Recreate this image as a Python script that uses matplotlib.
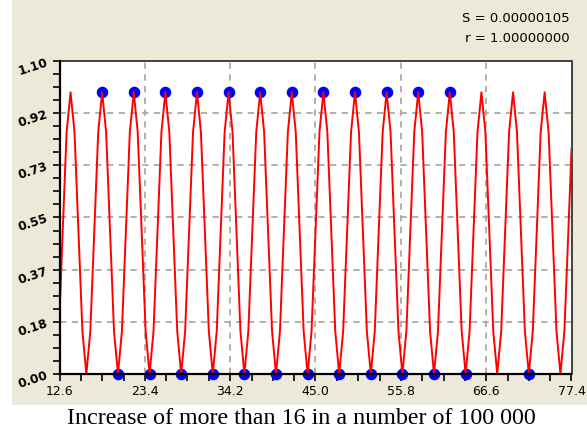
import numpy as np
from matplotlib import pyplot as plt
from matplotlib.patches import Rectangle

# fitted curve (red)
wave_x = [12.6, 13.0, 13.5, 14.0, 14.5, 15.0, 15.5,
          16.0, 16.5, 17.0, 17.5, 18.0, 18.5, 19.0, 19.5,
          20.0, 20.5, 21.0, 21.5, 22.0, 22.5, 23.0, 23.5,
          24.0, 24.5, 25.0, 25.5, 26.0, 26.5, 27.0, 27.5,
          28.0, 28.5, 29.0, 29.5, 30.0, 30.5, 31.0, 31.5,
          32.0, 32.5, 33.0, 33.5, 34.0, 34.5, 35.0, 35.5,
          36.0, 36.5, 37.0, 37.5, 38.0, 38.5, 39.0, 39.5,
          40.0, 40.5, 41.0, 41.5, 42.0, 42.5, 43.0, 43.5,
          44.0, 44.5, 45.0, 45.5, 46.0, 46.5, 47.0, 47.5,
          48.0, 48.5, 49.0, 49.5, 50.0, 50.5, 51.0, 51.5,
          52.0, 52.5, 53.0, 53.5, 54.0, 54.5, 55.0, 55.5,
          56.0, 56.5, 57.0, 57.5, 58.0, 58.5, 59.0, 59.5,
          60.0, 60.5, 61.0, 61.5, 62.0, 62.5, 63.0, 63.5,
          64.0, 64.5, 65.0, 65.5, 66.0, 66.5, 67.0, 67.5,
          68.0, 68.5, 69.0, 69.5, 70.0, 70.5, 71.0, 71.5,
          72.0, 72.5, 73.0, 73.5, 74.0, 74.5, 75.0, 75.5,
          76.0, 76.5, 77.0, 77.4]
wave_y = [0.20, 0.50, 0.85, 0.99, 0.85, 0.50, 0.15,
          0.00, 0.15, 0.50, 0.85, 0.99, 0.85, 0.50, 0.15,
          0.00, 0.15, 0.50, 0.85, 0.99, 0.85, 0.50, 0.15,
          0.00, 0.15, 0.50, 0.85, 0.99, 0.85, 0.50, 0.15,
          0.00, 0.15, 0.50, 0.85, 0.99, 0.85, 0.50, 0.15,
          0.00, 0.15, 0.50, 0.85, 0.99, 0.85, 0.50, 0.15,
          0.00, 0.15, 0.50, 0.85, 0.99, 0.85, 0.50, 0.15,
          0.00, 0.15, 0.50, 0.85, 0.99, 0.85, 0.50, 0.15,
          0.00, 0.15, 0.50, 0.85, 0.99, 0.85, 0.50, 0.15,
          0.00, 0.15, 0.50, 0.85, 0.99, 0.85, 0.50, 0.15,
          0.00, 0.15, 0.50, 0.85, 0.99, 0.85, 0.50, 0.15,
          0.00, 0.15, 0.50, 0.85, 0.99, 0.85, 0.50, 0.15,
          0.00, 0.15, 0.50, 0.85, 0.99, 0.85, 0.50, 0.15,
          0.00, 0.15, 0.50, 0.85, 0.99, 0.85, 0.50, 0.15,
          0.00, 0.15, 0.50, 0.85, 0.99, 0.85, 0.50, 0.15,
          0.00, 0.15, 0.50, 0.85, 0.99, 0.85, 0.50, 0.15,
          0.00, 0.15, 0.50, 0.79]

# measured points (blue)
peak_x = [18, 22, 26, 30, 34, 38, 42, 46, 50, 54, 58, 62]
peak_y = [0.99, 0.99, 0.99, 0.99, 0.99, 0.99, 0.99, 0.99, 0.99, 0.99, 0.99, 0.99]
low_x = [20, 24, 28, 32, 36, 40, 44, 48, 52, 56, 60, 64, 72]
low_y = [0, 0, 0, 0, 0, 0, 0, 0, 0, 0, 0, 0, 0]

x_ticks = [12.6, 23.4, 34.2, 45.0, 55.8, 66.6, 77.4]
x_labels = ['12.6', '23.4', '34.2', '45.0', '55.8', '66.6', '77.4']
y_labels = ['0.00', '0.18', '0.37', '0.55', '0.73', '0.92', '1.10']

stats = ['S = 0.00000105', 'r = 1.00000000']
xlabel = 'Increase of more than 16 in a number of 100 000'

fig = plt.figure(figsize=(5.87, 4.34), dpi=100)
fig.patch.set_facecolor('white')
# beige panel behind the chart
fig.patches.append(Rectangle((12 / 587, (434 - 405) / 434), 1, 1,
                             transform=fig.transFigure, facecolor='#ECE9D8',
                             edgecolor='none', zorder=-10))

ax = fig.add_axes([59.5 / 587, (434 - 374) / 434, 512 / 587, 313 / 434])
ax.set_facecolor('white')
ax.set_xlim(12.6, 77.4)
ax.set_ylim(0, 1.1)

y_ticks = np.linspace(0, 1.1, 7)
ax.set_xticks(x_ticks)
ax.set_xticklabels(x_labels, fontsize=9)
ax.set_yticks(y_ticks)
ax.set_yticklabels(y_labels, fontsize=8.8, fontweight='bold', rotation=18)
ax.set_xticks(np.arange(12.6, 77.5, 2.7), minor=True)
ax.set_yticks(np.linspace(0, 1.1, 25), minor=True)
ax.tick_params(which='both', direction='out', length=5, width=1.2, color='black')
ax.tick_params(axis='x', pad=3)
ax.tick_params(axis='y', pad=2)

for v in x_ticks[1:-1]:
    ax.axvline(v, color='#ABAB9F', lw=1.3, ls=(0, (3.5, 3)), zorder=1)
for v in y_ticks[1:-1]:
    ax.axhline(v, color='#ABAB9F', lw=1.3, ls=(0, (3.5, 3)), zorder=1)

ax.plot(peak_x + low_x, peak_y + low_y, 'o', color='#0000FF', ms=7.3,
        mec='#0000FF', clip_on=False, zorder=3)
ax.plot(wave_x, wave_y, color='#FF0000', lw=1.4, zorder=4)

for s in ['left', 'bottom']:
    ax.spines[s].set_linewidth(1.6)
    ax.spines[s].set_zorder(5)
for s in ['top', 'right']:
    ax.spines[s].set_linewidth(1.3)
    ax.spines[s].set_color('#333333')

fig.text(570 / 587, 1 - 18 / 434, stats[0], ha='right', va='center', fontsize=9.5)
fig.text(570 / 587, 1 - 38 / 434, stats[1], ha='right', va='center', fontsize=9.5)
fig.text(301 / 587, 1 - 418 / 434, xlabel, ha='center', va='center',
         fontsize=17.3, family='Liberation Serif')

plt.savefig('out.png', dpi=100)
